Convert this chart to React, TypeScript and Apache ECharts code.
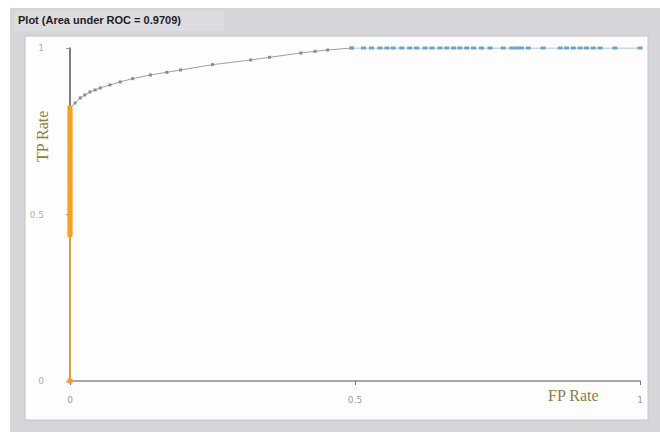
import React, { useEffect, useRef } from "react";
import * as echarts from "echarts";

const titleText = "Plot (Area under ROC = 0.9709)";
const xAxisName = "FP Rate";
const yAxisName = "TP Rate";
const tickLabels: Record<string, string> = { "0": "0", "0.5": "0.5", "1": "1" };

// high-threshold segment (orange), along FP = 0
const orangeTP = [0, 0.44, 0.45, 0.46, 0.47, 0.48, 0.49, 0.5, 0.51, 0.52, 0.53, 0.54, 0.55, 0.56, 0.57, 0.58, 0.59, 0.6, 0.61, 0.62, 0.63, 0.64, 0.65, 0.66, 0.67, 0.68, 0.69, 0.7, 0.71, 0.72, 0.73, 0.74, 0.75, 0.76, 0.77, 0.78, 0.79, 0.8, 0.81, 0.82];
const orangeFP = orangeTP.map(() => 0);

// middle-threshold segment (gray)
const grayFP = [0, 0.009, 0.018, 0.026, 0.035, 0.044, 0.053, 0.07, 0.088, 0.11, 0.141, 0.17, 0.194, 0.25, 0.317, 0.35, 0.405, 0.43, 0.452, 0.494];
const grayTP = [0.82, 0.835, 0.85, 0.859, 0.868, 0.874, 0.88, 0.889, 0.898, 0.908, 0.919, 0.927, 0.934, 0.95, 0.964, 0.972, 0.985, 0.99, 0.994, 1];

// low-threshold segment (blue), along TP = 1
const blueFP = [0.494, 0.515, 0.529, 0.544, 0.556, 0.567, 0.582, 0.596, 0.608, 0.623, 0.635, 0.649, 0.661, 0.673, 0.684, 0.696, 0.708, 0.722, 0.737, 0.76, 0.775, 0.784, 0.792, 0.804, 0.83, 0.86, 0.871, 0.883, 0.895, 0.906, 0.918, 0.93, 0.956, 1.0];
const blueTP = blueFP.map(() => 1);

const zip = (a: number[], b: number[]) => a.map((v, i) => [v, b[i]]);

export default function App() {
  const ref = useRef<HTMLDivElement>(null);
  useEffect(() => {
    document.body.style.margin = "0";
    const chart = echarts.init(ref.current!, null, { renderer: "svg" });
    const labelFmt = (v: number) => tickLabels[String(v)] ?? "";
    chart.setOption({
      animation: false,
      backgroundColor: "#ffffff",
      graphic: [
        { type: "rect", z: -10, shape: { x: 10, y: 8, width: 650, height: 424 }, style: { fill: "#d5d5da" } },
        { type: "rect", z: -9, shape: { x: 14, y: 11, width: 210, height: 20 }, style: { fill: "#dcdce0" } },
        { type: "rect", z: -8, shape: { x: 25, y: 36, width: 623, height: 384 }, style: { fill: "#fdfdfd", stroke: "#c4c4c8", lineWidth: 1 } },
        { type: "text", left: 18, top: 14, style: { text: titleText, font: "bold 11px 'Liberation Sans', Arial, sans-serif", fill: "#1e1e1e" } },
        { type: "text", x: 34, y: 162, rotation: Math.PI / 2, style: { text: yAxisName, font: "16px 'Liberation Serif', serif", fill: "#8a7d45", align: "left", verticalAlign: "top" } },
        { type: "text", x: 548, y: 387, style: { text: xAxisName, font: "16px 'Liberation Serif', serif", fill: "#8a7d45" } },
      ],
      grid: { left: 70, right: 20, top: 48, bottom: 51 },
      xAxis: {
        type: "value", min: 0, max: 1, interval: 0.5,
        splitLine: { show: false },
        axisLine: { lineStyle: { color: "#a6a6a6", width: 2 } },
        axisTick: { show: true, length: 4, lineStyle: { color: "#777" } },
        axisLabel: { formatter: labelFmt, color: "#9a9a9a", fontSize: 9, margin: 14, fontFamily: "'DejaVu Sans', sans-serif" },
      },
      yAxis: {
        type: "value", min: 0, max: 1, interval: 0.5,
        splitLine: { show: false },
        axisLine: { lineStyle: { color: "#555", width: 1.5 } },
        axisTick: { show: true, length: 4, lineStyle: { color: "#999" } },
        axisLabel: { formatter: labelFmt, color: "#b0b0b0", fontSize: 9, margin: 26, fontFamily: "'DejaVu Sans', sans-serif" },
      },
      series: [
        {
          type: "line", data: zip(grayFP, grayTP), symbol: "rect", symbolSize: 3, showSymbol: true,
          lineStyle: { color: "#a0a0a0", width: 1 }, itemStyle: { color: "#8c8c8c" }, z: 3,
        },
        {
          type: "line", data: zip(blueFP, blueTP), symbol: "rect", symbolSize: [5, 3], showSymbol: true,
          lineStyle: { color: "#9fb4b8", width: 1 }, itemStyle: { color: "#6fa3c8" }, z: 3,
        },
        {
          type: "line", data: zip(orangeFP, orangeTP), symbol: "rect", symbolSize: [5, 5], showSymbol: true,
          lineStyle: { color: "#f0a830", width: 1.5 }, itemStyle: { color: "#f2a22a" }, z: 4,
        },
      ],
    });
    return () => chart.dispose();
  }, []);
  return <div ref={ref} style={{ width: 660, height: 432 }} />;
}
